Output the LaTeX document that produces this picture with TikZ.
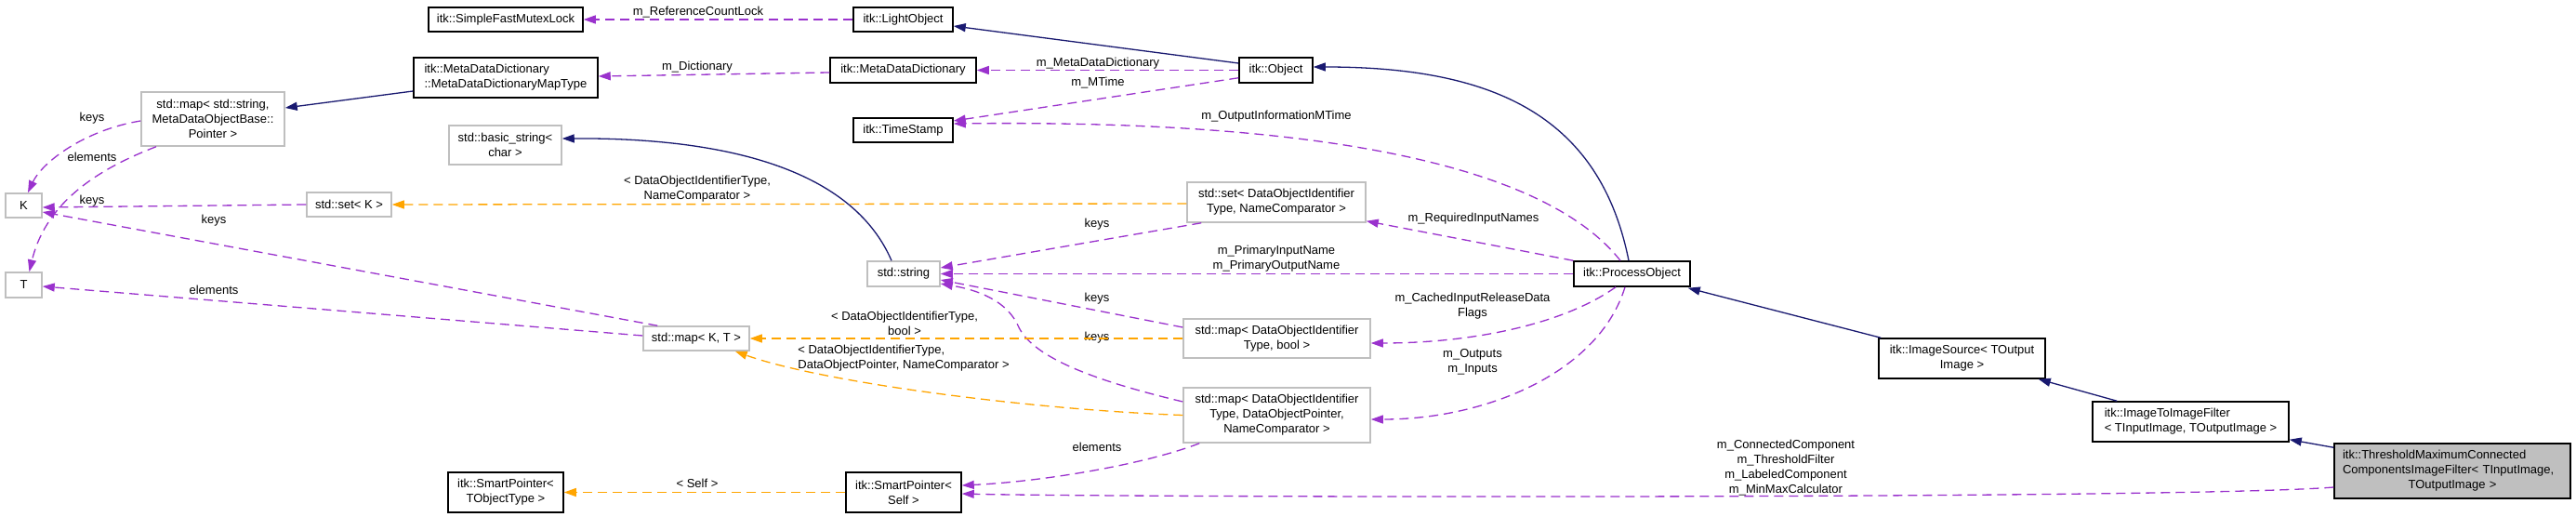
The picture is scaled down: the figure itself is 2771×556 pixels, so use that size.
\documentclass[tikz,border=0pt]{standalone}
\usepackage{fontspec}
\setmainfont{Liberation Sans}
\usetikzlibrary{arrows.meta}
\definecolor{edgeblue}{HTML}{191970}
\definecolor{edgepurple}{HTML}{9A32CD}
\definecolor{edgeorange}{HTML}{FFA500}
\definecolor{boxgray}{HTML}{BFBFBF}
\tikzset{
  cls/.style={draw=black, line width=1.5pt, fill=white, inner sep=0pt, align=center, font=\fontsize{13}{16}\selectfont},
  stdcls/.style={cls, draw=boxgray},
  lbl/.style={inner sep=0pt, align=center, font=\fontsize{13}{16}\selectfont},
  inherit/.style={draw=edgeblue, line width=1.3pt, -{Triangle[length=13pt,width=9pt]}},
  usage/.style={draw=edgepurple, line width=1.3pt, dash pattern=on 10pt off 6pt, -{Triangle[length=13pt,width=9pt]}},
  tmpl/.style={usage, draw=edgeorange},
}
\begin{document}
\begin{tikzpicture}[x=1pt,y=-1pt]
\path[fill=white] (0,0) rectangle (2771,556);

\node[cls, minimum width=166, minimum height=26] (mutex) at (544,21) {itk::SimpleFastMutexLock};
\node[cls, minimum width=107, minimum height=26] (lobj) at (971.5,21) {itk::LightObject};
\node[cls, minimum width=157, minimum height=27] (mdd) at (971.5,75.5) {itk::MetaDataDictionary};
\node[cls, minimum width=198, minimum height=43, align=left] (mddmap) at (544,83.5) {itk::MetaDataDictionary\\::MetaDataDictionaryMapType};
\node[cls, minimum width=79, minimum height=27] (obj) at (1372.5,75.5) {itk::Object};
\node[cls, minimum width=107, minimum height=26] (stamp) at (971.5,140) {itk::TimeStamp};
\node[stdcls, minimum width=154, minimum height=58] (mapstr) at (229,128) {std::map< std::string,\\MetaDataObjectBase::\\Pointer >};
\node[stdcls, minimum width=121, minimum height=42] (bstr) at (543.5,156) {std::basic\_string<\\char >};
\node[stdcls, minimum width=39, minimum height=26] (K) at (25.5,221) {K};
\node[stdcls, minimum width=39, minimum height=27] (T) at (25.5,306.5) {T};
\node[stdcls, minimum width=91, minimum height=26] (setk) at (375.5,220) {std::set< K >};
\node[stdcls, minimum width=192, minimum height=43] (setdoi) at (1373,217.5) {std::set< DataObjectIdentifier\\Type, NameComparator >};
\node[stdcls, minimum width=78, minimum height=27] (str) at (972,294.5) {std::string};
\node[cls, minimum width=125, minimum height=27] (po) at (1755.5,294.5) {itk::ProcessObject};
\node[stdcls, minimum width=114, minimum height=26] (mapkt) at (749,364) {std::map< K, T >};
\node[stdcls, minimum width=201, minimum height=42] (mapbool) at (1373.5,364) {std::map< DataObjectIdentifier\\Type, bool >};
\node[stdcls, minimum width=201, minimum height=59] (mapptr) at (1373.5,446.5) {std::map< DataObjectIdentifier\\Type, DataObjectPointer,\\NameComparator >};
\node[cls, minimum width=124, minimum height=43] (spself) at (972,529.5) {itk::SmartPointer<\\Self >};
\node[cls, minimum width=124, minimum height=43] (sptype) at (544,529.5) {itk::SmartPointer<\\TObjectType >};
\node[cls, minimum width=179, minimum height=43] (isrc) at (2110.5,385.5) {itk::ImageSource< TOutput\\Image >};
\node[cls, minimum width=211, minimum height=43, align=left] (i2i) at (2356.5,453.5) {itk::ImageToImageFilter\\< TInputImage, TOutputImage >};
\node[cls, fill=boxgray, minimum width=254, minimum height=59, text width=236, align=left] (thr) at (2638,506.5) {itk::ThresholdMaximumConnected\\ComponentsImageFilter< TInputImage,\\\hbox to \hsize{\hfil TOutputImage >\hfil}};

\node[lbl] (l-refcount) at (751,13) {m\_ReferenceCountLock};
\node[lbl] (l-mdd) at (1181,68) {m\_MetaDataDictionary};
\node[lbl] (l-dict) at (750,72) {m\_Dictionary};
\node[lbl] (l-mtime) at (1181,89) {m\_MTime};
\node[lbl] (l-outinfo) at (1373,125) {m\_OutputInformationMTime};
\node[lbl] (l-keys1) at (99,127) {keys};
\node[lbl] (l-elem1) at (99,169) {elements};
\node[lbl] (l-keys2) at (99,216) {keys};
\node[lbl] (l-keys3) at (230,237) {keys};
\node[lbl] (l-elem2) at (230,312) {elements};
\node[lbl] (l-settmpl) at (750,203) {< DataObjectIdentifierType,\\NameComparator >};
\node[lbl] (l-keys4) at (1180,241) {keys};
\node[lbl] (l-reqin) at (1585,235) {m\_RequiredInputNames};
\node[lbl] (l-primary) at (1373,278.5) {m\_PrimaryInputName\\m\_PrimaryOutputName};
\node[lbl] (l-keys5) at (1180,321) {keys};
\node[lbl] (l-keys6) at (1180,363) {keys};
\node[lbl] (l-cached) at (1584,329) {m\_CachedInputReleaseData\\Flags};
\node[lbl] (l-booltmpl) at (973,347.5) {< DataObjectIdentifierType,\\bool >};
\node[lbl, align=left] (l-ptrtmpl) at (972,385) {< DataObjectIdentifierType,\\DataObjectPointer, NameComparator >};
\node[lbl] (l-inout) at (1584,389) {m\_Outputs\\m\_Inputs};
\node[lbl] (l-elem3) at (1180,481) {elements};
\node[lbl] (l-self) at (750,520) {< Self >};
\node[lbl] (l-members) at (1921,503) {m\_ConnectedComponent\\m\_ThresholdFilter\\m\_LabeledComponent\\m\_MinMaxCalculator};

\draw[usage] (lobj) -- (mutex);
\draw[inherit] ([yshift=7.5]obj.west) -- ([yshift=-7]lobj.east);
\draw[usage] (obj) -- (mdd);
\draw[usage] ([yshift=-2.5]mdd.west) -- ([yshift=1.5]mddmap.east);
\draw[inherit] ([yshift=-14.5]mddmap.west) -- ([yshift=12]mapstr.east);
\draw[usage] ([yshift=-2]mapstr.west) .. controls (90,140) and (45,175) .. ([xshift=4.5]K.north);
\draw[usage] ([xshift=-61]mapstr.south) .. controls (110,180) and (50,215) .. ([xshift=6]T.north);
\draw[usage] (setk.west) -- ([yshift=-2]K.east);
\draw[usage] ([xshift=16]mapkt.north west) -- ([yshift=-7]K.east);
\draw[usage] ([yshift=3]mapkt.west) -- ([yshift=-1.5]T.east);
\draw[tmpl] ([yshift=-1.5]setdoi.west) -- (setk.east);
\draw[inherit] ([xshift=-13]str.north) .. controls (920,190) and (800,148) .. ([yshift=7]bstr.east);
\draw[usage] ([xshift=16]setdoi.south west) -- ([yshift=6.5]str.east);
\draw[usage] (po) -- (str);
\draw[usage] ([yshift=12]mapbool.west) -- ([yshift=-6.5]str.east);
\draw[usage] ([yshift=14.5]mapptr.west) .. controls (1180,410) and (1110,385) .. (1095,350) .. controls (1080,318) and (1040,310) .. ([yshift=-10.5]str.east);
\draw[tmpl] (mapbool) -- (mapkt);
\draw[tmpl] (mapptr.west) .. controls (1100,440) and (880,410) .. ([xshift=-16]mapkt.south east);
\draw[tmpl] (spself) -- (sptype);
\draw[usage] ([xshift=18]mapptr.south west) .. controls (1230,500) and (1120,518) .. ([yshift=7.5]spself.east);
\draw[usage] ([yshift=-17.5]thr.west) .. controls (2350,537) and (1200,535) .. ([yshift=-1.5]spself.east);
\draw[inherit] ([xshift=-3.5]po.north) .. controls (1720,120) and (1600,72) .. ([yshift=3.5]obj.east);
\draw[usage] ([xshift=-12.5]po.north) .. controls (1640,150) and (1300,130) .. ([yshift=7]stamp.east);
\draw[usage] ([yshift=6]obj.south west) -- ([yshift=10]stamp.east);
\draw[usage] (po.north west) -- ([yshift=2]setdoi.south east);
\draw[usage] ([xshift=-17.5]po.south) .. controls (1680,350) and (1580,369) .. ([yshift=-5]mapbool.east);
\draw[usage] ([xshift=-7.5]po.south) .. controls (1720,400) and (1600,451) .. ([yshift=-4.5]mapptr.east);
\draw[inherit] ([xshift=3]isrc.north west) -- ([xshift=-3,yshift=-1]po.south east);
\draw[inherit] ([xshift=27]i2i.north west) -- ([xshift=-8]isrc.south east);
\draw[inherit] ([yshift=-5]thr.north west) -- ([yshift=3]i2i.south east);
\end{tikzpicture}
\end{document}
